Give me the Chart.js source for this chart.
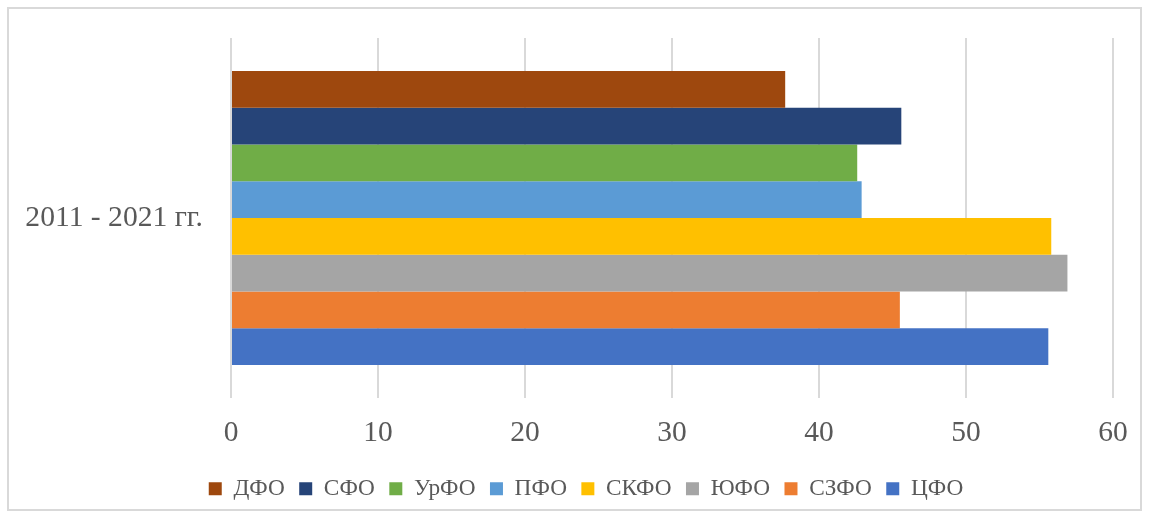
<!DOCTYPE html>
<html>
<head>
<meta charset="utf-8">
<script src="https://cdn.jsdelivr.net/npm/chart.js@4"></script>
<style>
  html, body { margin: 0; padding: 0; background: #fff; }
  #wrap { position: relative; width: 1149px; height: 518px; }
</style>
</head>
<body>
<div id="wrap"><canvas id="chart" width="1149" height="518"></canvas></div>
<script>
// данные
const categories = ['2011 - 2021 гг.'];
const districts = ['ДФО', 'СФО', 'УрФО', 'ПФО', 'СКФО', 'ЮФО', 'СЗФО', 'ЦФО'];
const values = [37.7, 45.6, 42.6, 42.9, 55.8, 56.9, 45.5, 55.6];
const colors = ['#9E480E', '#264478', '#70AD47', '#5B9BD5', '#FFC000', '#A5A5A5', '#ED7D31', '#4472C4'];
const xTicks = [0, 10, 20, 30, 40, 50, 60];

const datasets = districts.map((name, i) => ({
  label: name,
  data: [values[i]],
  backgroundColor: colors[i],
  barPercentage: 1,
  categoryPercentage: 0.817
}));

// рамка вокруг диаграммы + сдвиг легенды вправо
const framePlugin = {
  id: 'frame',
  afterLayout(chart) {
    chart.legend.left += 29.5;
    chart.legend.right += 29.5;
  },
  beforeDraw(chart) {
    const ctx = chart.ctx;
    ctx.save();
    ctx.fillStyle = '#fff';
    ctx.fillRect(0, 0, chart.width, chart.height);
    ctx.strokeStyle = '#d9d9d9';
    ctx.lineWidth = 2;
    ctx.strokeRect(8, 8, 1133, 502);
    ctx.restore();
  }
};

new Chart(document.getElementById('chart'), {
  type: 'bar',
  data: { labels: categories, datasets: datasets },
  plugins: [framePlugin],
  options: {
    indexAxis: 'y',
    responsive: false,
    animation: false,
    layout: { padding: { top: 38, right: 36, bottom: 7.5, left: 0 } },
    scales: {
      x: {
        min: 0,
        max: 60,
        afterBuildTicks(scale) { scale.ticks = xTicks.map(v => ({ value: v })); },
        afterFit(scale) { scale.height = 65; },
        grid: { color: '#d9d9d9', lineWidth: 2, drawTicks: false },
        border: { display: false },
        ticks: {
          padding: 18,
          color: '#595959',
          font: { family: 'Liberation Serif', size: 29.5 }
        }
      },
      y: {
        grid: { display: false, drawTicks: false },
        border: { display: false },
        afterFit(scale) { scale.width = 231; },
        ticks: {
          padding: 28,
          color: '#595959',
          font: { family: 'Liberation Serif', size: 29.6, lineHeight: 0.6 }
        }
      }
    },
    plugins: {
      tooltip: { enabled: false },
      legend: {
        position: 'bottom',
        labels: {
          boxWidth: 13,
          boxHeight: 13,
          padding: 14.4,
          color: '#595959',
          font: { family: 'Liberation Serif', size: 23.3 }
        }
      }
    }
  }
});
</script>
</body>
</html>
